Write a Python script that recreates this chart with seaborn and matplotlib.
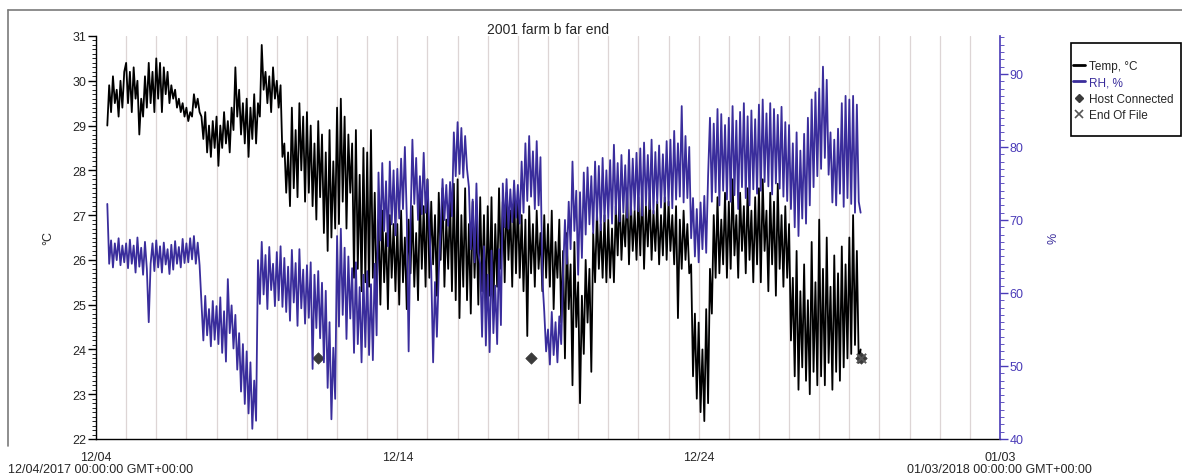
import numpy as np
import pandas as pd
import matplotlib
matplotlib.use("Agg")
import matplotlib.pyplot as plt
import matplotlib.dates as mdates
from matplotlib.lines import Line2D
from matplotlib.patches import Rectangle
from matplotlib.ticker import MultipleLocator
import seaborn as sns

sns.set_style("white")
plt.rcParams["font.family"] = ["Liberation Sans", "DejaVu Sans"]

# Logger readings, one every 90 minutes from 12/04 09:00 (one row per day)
first_sample = "2017-12-04 09:00"
temp_c = [
    29.0, 29.9, 29.3, 30.1, 29.5, 29.8, 29.2, 30.0, 29.4, 30.2,
    30.4, 29.5, 30.2, 29.3, 30.3, 29.6, 30.0, 28.8, 29.6, 29.2, 30.1, 29.4, 30.4, 29.5, 30.2, 29.3,
    30.5, 29.6, 30.4, 29.3, 30.3, 29.7, 30.2, 29.5, 29.9, 29.6, 29.8, 29.4, 29.6, 29.3, 29.5, 29.2,
    29.4, 29.1, 29.3, 29.2, 29.7, 29.4, 29.6, 29.3, 29.2, 28.7, 29.3, 28.4, 29.0, 28.3, 29.1, 28.5,
    29.2, 28.1, 29.0, 28.5, 29.3, 28.6, 29.1, 28.4, 29.4, 28.9, 30.3, 29.2, 29.8, 28.8, 29.5, 28.6,
    29.6, 28.3, 29.4, 28.7, 29.7, 28.6, 29.5, 29.2, 30.8, 29.8, 30.2, 29.5, 30.1, 29.3, 30.3, 29.6,
    30.0, 29.4, 29.9, 28.3, 28.6, 27.5, 28.4, 27.2, 29.4, 27.6, 28.9, 27.4, 29.5, 28.0, 29.2, 27.3,
    29.3, 27.5, 29.0, 27.2, 28.6, 26.9, 29.1, 27.4, 28.8, 26.6, 28.4, 26.2, 28.9, 26.5, 28.2, 26.7,
    29.4, 26.8, 29.6, 27.3, 29.2, 26.7, 28.8, 27.5, 28.6, 25.6, 28.9, 25.8, 27.9, 25.3, 28.5, 25.5,
    28.4, 25.4, 28.9, 25.6, 27.5, 25.2, 26.9, 25.0, 27.1, 25.5, 26.6, 24.9, 27.0, 25.6, 26.8, 25.3,
    26.8, 25.0, 27.1, 25.5, 26.5, 24.9, 26.9, 25.7, 27.2, 25.4, 26.6, 25.1, 27.5, 25.8, 27.2, 25.4,
    27.8, 25.6, 27.3, 25.9, 27.0, 25.2, 27.5, 26.0, 27.6, 25.4, 26.9, 25.8, 27.4, 25.3, 27.7, 25.1,
    27.8, 24.7, 27.0, 25.4, 27.6, 25.1, 26.8, 24.8, 27.3, 25.6, 26.9, 25.0, 27.4, 25.3, 27.0, 24.9,
    27.2, 25.2, 27.4, 24.9, 26.8, 25.4, 27.6, 25.8, 27.3, 25.5, 27.5, 26.0, 27.1, 25.4, 27.6, 25.7,
    27.3, 25.6, 27.0, 25.3, 26.9, 24.3, 27.2, 25.7, 26.8, 25.4, 27.1, 25.8, 26.6, 25.3, 27.0, 25.6,
    26.8, 25.4, 27.1, 24.9, 26.4, 25.6, 26.9, 24.6, 26.2, 23.8, 26.6, 24.9, 25.9, 23.2, 26.4, 24.5,
    25.5, 22.8, 25.2, 23.9, 26.0, 24.6, 25.8, 23.5, 26.6, 25.5, 27.1, 25.8, 26.8, 25.6, 27.0, 25.5,
    26.9, 25.6, 26.7, 25.5, 27.2, 26.1, 27.5, 26.0, 27.0, 26.3, 27.6, 25.9, 27.3, 26.2, 27.1, 26.0,
    27.4, 26.1, 27.6, 25.8, 27.2, 26.3, 27.5, 26.0, 27.1, 26.2, 27.3, 25.9, 27.0, 26.1, 27.4, 26.0,
    27.3, 26.2, 27.0, 25.9, 27.2, 24.7, 26.9, 25.8, 27.1, 26.0, 26.8, 25.7, 25.9, 23.4, 24.8, 22.9,
    24.6, 22.6, 24.0, 22.4, 24.9, 22.8, 25.8, 24.8, 27.0, 25.6, 27.4, 25.7, 26.9, 25.9, 27.5, 25.6,
    27.3, 25.8, 27.8, 26.1, 27.0, 25.6, 27.5, 26.2, 27.2, 25.7, 27.6, 26.0, 27.1, 25.5, 27.4, 25.9,
    27.6, 25.5, 27.8, 26.2, 27.1, 25.3, 27.5, 25.9, 27.3, 25.2, 27.7, 25.8, 27.0, 25.4, 27.2, 25.6,
    26.8, 24.2, 25.6, 23.4, 26.2, 23.1, 25.3, 23.6, 25.9, 23.3, 25.1, 23.0, 26.4, 23.5, 25.5, 23.2,
    26.9, 23.4, 25.8, 23.2, 26.5, 23.7, 25.4, 23.1, 26.1, 23.5, 25.7, 23.3, 26.3, 23.6, 25.9, 23.8,
    26.5, 23.9, 27.0, 24.1, 26.2, 23.7, 24.0,
]
rh_pct = [
    72.2, 64.0, 67.2, 63.5, 66.8, 64.5, 67.5, 63.8, 66.5, 64.2,
    66.8, 63.4, 67.3, 64.0, 66.5, 62.8, 67.6, 63.6, 66.2, 62.5, 67.0, 63.3, 56.0, 64.0, 66.8, 63.0,
    67.2, 63.5, 66.4, 62.8, 66.9, 63.9, 66.0, 62.6, 66.6, 63.2, 67.1, 64.0, 66.3, 63.5, 67.4, 64.1,
    66.8, 64.2, 67.5, 64.6, 67.8, 64.0, 66.9, 63.8, 58.5, 53.5, 59.6, 54.2, 57.8, 52.7, 58.9, 53.6,
    58.2, 53.0, 59.4, 51.8, 57.5, 50.6, 61.9, 54.5, 58.3, 52.4, 57.0, 49.5, 54.5, 46.5, 53.0, 44.8,
    52.0, 43.5, 50.5, 41.4, 48.0, 42.5, 64.5, 58.5, 67.0, 59.8, 65.2, 57.8, 66.3, 60.4, 64.0, 58.2,
    65.6, 59.0, 66.4, 58.1, 64.8, 57.4, 63.6, 56.2, 65.9, 58.7, 64.1, 55.5, 66.0, 57.9, 63.2, 55.8,
    63.8, 56.6, 64.2, 49.6, 62.5, 55.2, 63.0, 53.8, 61.4, 50.5, 60.3, 47.0, 56.0, 42.7, 52.5, 45.5,
    67.8, 55.4, 68.8, 57.0, 66.2, 53.7, 65.0, 56.5, 63.4, 51.8, 64.2, 53.0, 60.8, 50.5, 62.5, 52.6,
    63.0, 51.5, 61.2, 50.8, 64.0, 54.2, 76.5, 67.2, 77.8, 68.5, 75.3, 66.4, 78.0, 69.4, 76.8, 67.9,
    77.0, 70.2, 78.4, 71.5, 80.0, 70.6, 52.0, 69.5, 81.0, 72.2, 78.5, 70.0, 76.0, 70.8, 79.2, 71.0,
    75.5, 69.0, 63.0, 50.5, 61.5, 54.0, 62.8, 68.8, 75.6, 70.0, 74.8, 69.2, 75.2, 70.5, 82.0, 76.0,
    83.4, 76.3, 82.6, 75.8, 81.5, 77.0, 74.5, 66.0, 72.8, 64.2, 75.0, 65.5, 64.0, 54.0, 66.4, 52.8,
    62.5, 51.9, 65.8, 54.5, 61.0, 53.0, 66.0, 55.6, 75.0, 69.0, 75.6, 68.8, 74.2, 69.7, 75.4, 70.3,
    74.8, 69.5, 78.0, 71.0, 80.5, 72.6, 81.5, 73.2, 79.4, 71.5, 80.8, 72.0, 78.6, 62.0, 57.5, 52.0,
    55.0, 50.2, 57.4, 51.5, 56.0, 50.5, 56.8, 53.0, 62.5, 70.0, 64.0, 72.5, 66.0, 78.0, 68.5, 74.0,
    62.5, 73.8, 64.8, 76.5, 68.0, 77.2, 69.4, 76.0, 68.2, 78.0, 70.0, 77.4, 68.6, 78.5, 69.8, 76.8,
    70.2, 78.2, 69.5, 80.3, 70.8, 77.8, 69.8, 78.9, 71.0, 77.5, 70.3, 79.6, 70.7, 78.4, 71.4, 79.2,
    71.2, 79.8, 70.6, 80.6, 72.0, 78.9, 71.5, 81.0, 70.9, 79.3, 72.3, 80.2, 71.7, 79.0, 72.5, 80.8,
    72.0, 81.0, 71.6, 82.2, 72.8, 80.5, 73.2, 85.6, 72.4, 81.5, 73.0, 80.0, 67.5, 73.0, 65.0, 71.5,
    64.2, 72.4, 66.0, 73.3, 65.5, 76.0, 84.0, 72.5, 83.2, 73.8, 85.2, 72.0, 84.5, 74.0, 83.0, 72.8,
    84.0, 72.5, 85.6, 73.4, 83.6, 71.5, 84.8, 74.5, 86.0, 73.0, 84.2, 72.0, 85.0, 74.2, 83.8, 73.6,
    85.8, 74.0, 86.5, 75.2, 84.6, 74.6, 86.0, 73.5, 85.2, 75.0, 84.4, 74.3, 85.5, 73.2, 83.4, 72.6,
    83.0, 71.5, 80.5, 69.0, 82.0, 67.8, 79.5, 70.2, 81.8, 69.5, 84.0, 72.0, 86.5, 74.5, 87.5, 76.0,
    88.0, 77.0, 91.0, 78.5, 89.2, 76.2, 82.0, 72.4, 81.0, 72.0, 82.5, 73.6, 86.0, 71.8, 87.0, 73.0,
    86.5, 72.2, 87.0, 71.0, 85.8, 72.5, 71.0,
]
host_connected = ["2017-12-11 08:30", "2017-12-18 10:30", "2017-12-29 09:00"]
end_of_file = ["2017-12-29 09:00"]
event_level_c = 23.8

x_start, x_end = "2017-12-04", "2018-01-03"
date_labels = ["12/04/2017 00:00:00 GMT+00:00", "01/03/2018 00:00:00 GMT+00:00"]

rh_color = "#3a2d9c"
rh_axis_color = "#4a3bb8"
grid_color = "#ddd5d5"

temp_df = pd.DataFrame({
    "time": pd.date_range(first_sample, periods=len(temp_c), freq="90min"),
    "temp": temp_c})
rh_df = pd.DataFrame({
    "time": pd.date_range(first_sample, periods=len(rh_pct), freq="90min"),
    "rh": rh_pct})
hosts = pd.DataFrame({"time": pd.to_datetime(host_connected),
                      "level": [event_level_c] * len(host_connected)})
eofs = pd.DataFrame({"time": pd.to_datetime(end_of_file),
                     "level": [event_level_c] * len(end_of_file)})

W, H = 1182, 477
fig = plt.figure(figsize=(W / 100, H / 100), dpi=100)
ax = fig.add_axes([96 / W, 1 - 440 / H, (1000 - 96) / W, (440 - 37) / H])
ax2 = ax.twinx()

# daily vertical grid
ax.set_xlim(pd.Timestamp(x_start), pd.Timestamp(x_end))
ax.xaxis.set_major_locator(mdates.DayLocator(bymonthday=[3, 4, 14, 24]))
ax.xaxis.set_minor_locator(mdates.DayLocator())
ax.xaxis.set_major_formatter(mdates.DateFormatter("%m/%d"))
ax.grid(which="both", axis="x", color=grid_color, lw=0.9)
ax.grid(which="both", axis="y", visible=False)

sns.lineplot(data=temp_df, x="time", y="temp", ax=ax, color="black",
             lw=1.3, estimator=None, zorder=3)
sns.lineplot(data=rh_df, x="time", y="rh", ax=ax2, color=rh_color,
             lw=1.3, estimator=None, zorder=2)
sns.scatterplot(data=hosts, x="time", y="level", ax=ax, marker="D",
                color="#3a3a3a", s=34, edgecolor="#3a3a3a", zorder=5)
sns.scatterplot(data=eofs, x="time", y="level", ax=ax, marker="x",
                color="#555555", s=45, linewidth=1.4, zorder=6)

ax.set_ylim(22, 31)
ax.yaxis.set_major_locator(MultipleLocator(1))
ax.yaxis.set_minor_locator(MultipleLocator(0.1))
ax2.set_ylim(40, 95.2)
ax2.yaxis.set_major_locator(MultipleLocator(10))
ax2.yaxis.set_minor_locator(MultipleLocator(1))
ax2.set_xlim(pd.Timestamp(x_start), pd.Timestamp(x_end))

ax.set_xlabel("")
ax.set_ylabel("°C", fontsize=9, labelpad=13)
ax2.set_ylabel("%", fontsize=9, color=rh_color, labelpad=17)

ax.tick_params(axis="x", which="major", direction="out", length=7, width=1,
               labelsize=9, pad=2, color="black")
ax.tick_params(axis="x", which="minor", direction="out", length=3, width=0.8,
               color="black")
ax.tick_params(axis="y", which="major", direction="out", length=6, width=1,
               labelsize=9, pad=1, color="black")
ax.tick_params(axis="y", which="minor", direction="out", length=3, width=0.6,
               color="black")
ax2.tick_params(axis="y", which="major", direction="out", length=6, width=1,
                labelsize=9, pad=1, colors=rh_axis_color)
ax2.tick_params(axis="y", which="minor", direction="out", length=3, width=0.6,
                color=rh_axis_color)

for name in ["top", "right"]:
    ax.spines[name].set_visible(False)
for name in ["top", "left", "bottom"]:
    ax2.spines[name].set_visible(False)
ax.spines["left"].set_color("black")
ax.spines["bottom"].set_color("black")
ax.spines["left"].set_linewidth(1)
ax.spines["bottom"].set_linewidth(1)
ax2.spines["right"].set_color(rh_axis_color)
ax2.spines["right"].set_linewidth(1.2)
ax2.patch.set_visible(False)

fig.text(548 / W, 1 - 30 / H, "2001 farm b far end", ha="center",
         va="center", fontsize=10)
fig.text(8 / W, 1 - 470 / H, date_labels[0], ha="left", va="center",
         fontsize=9)
fig.text(999 / W, 1 - 470 / H, date_labels[1], ha="center", va="center",
         fontsize=9)

# legend: entries without frame, plus a separate box
handles = [
    Line2D([], [], color="black", lw=2),
    Line2D([], [], color=rh_color, lw=2),
    Line2D([], [], marker="D", ls="none", color="#3a3a3a", ms=4.5),
    Line2D([], [], marker="x", ls="none", color="#555555", ms=6, mew=1.2),
]
labels = ["Temp, °C", "RH, %", "Host Connected", "End Of File"]
leg = fig.legend(handles, labels, loc="upper left",
                 bbox_to_anchor=(1073 / W, 1 - 61 / H), frameon=False,
                 fontsize=8.5, handlelength=1.05, handletextpad=0.3,
                 borderpad=0, labelspacing=0.38, borderaxespad=0)
leg.get_texts()[1].set_color(rh_color)
fig.add_artist(Rectangle((1071 / W, 1 - 137 / H), (1181 - 1071) / W,
                         (137 - 44) / H, transform=fig.transFigure,
                         fill=False, edgecolor="black", lw=1.2))

# panel frame
fig.add_artist(Line2D([8 / W, 8 / W], [1 - 447 / H, 1 - 11 / H],
                      color="#7a7a7a", lw=1.2, transform=fig.transFigure))
fig.add_artist(Line2D([8 / W, 1], [1 - 11 / H, 1 - 11 / H],
                      color="#7a7a7a", lw=1.2, transform=fig.transFigure))

fig.savefig("out.png", dpi=100)
